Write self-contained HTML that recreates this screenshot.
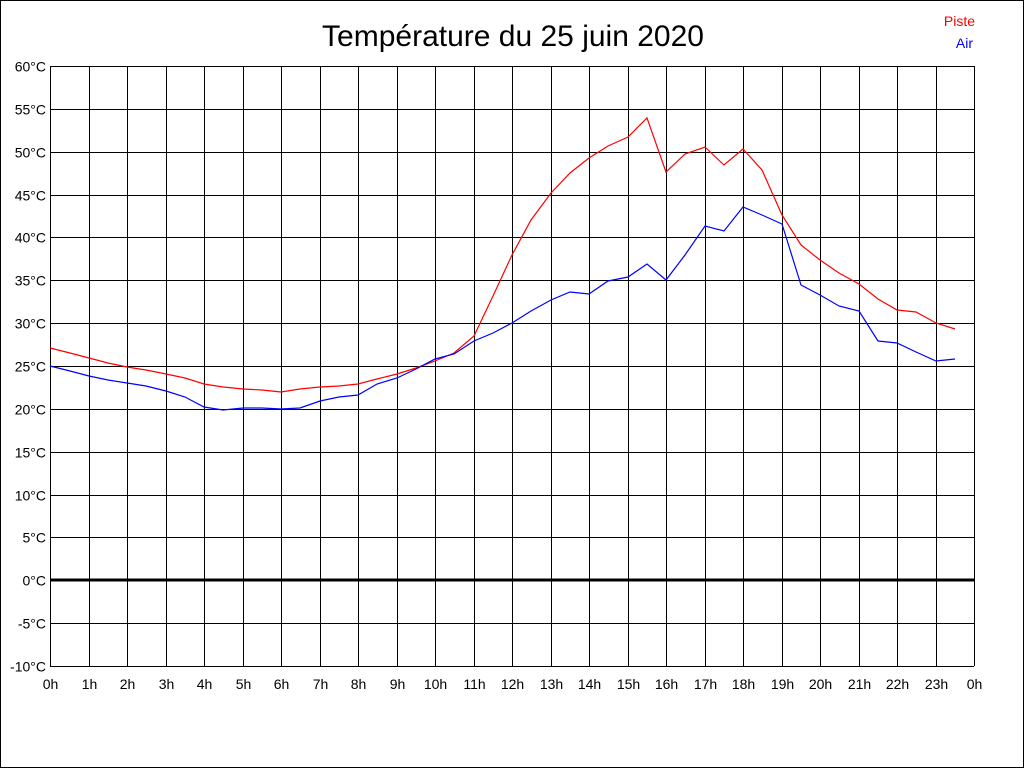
<!DOCTYPE html>
<html><head><meta charset="utf-8"><style>
html,body{margin:0;padding:0;background:#fff}
svg{display:block}
text{font-family:"Liberation Sans",Arial,sans-serif}
</style></head><body>
<svg width="1024" height="768" viewBox="0 0 1024 768" xmlns="http://www.w3.org/2000/svg">
<rect x="0.5" y="0.5" width="1023" height="767" fill="#fff" stroke="#000"/>
<text x="513" y="46" font-size="30" text-anchor="middle">Température du 25 juin 2020</text>
<text x="975" y="26" font-size="14" fill="#f00" text-anchor="end">Piste</text>
<text x="973" y="48" font-size="14" fill="#00f" text-anchor="end">Air</text>
<g id="grid" stroke="#000" stroke-width="1" shape-rendering="crispEdges"></g>
<g id="lbl" font-size="14"></g>
<line x1="50" y1="580" x2="974" y2="580" stroke="#000" stroke-width="3"/>
<polyline fill="none" stroke="#f00" stroke-width="1.2" points="50,348 70,353 89,358 108,363 127,367 146,370 166,374 185,378 204,384 223,387 243,389 262,390 281,392 300,389 320,387 339,386 358,384 377,379 397,374 416,368 435,361 454,353 474,336 493,296 512,255 531,220 551,193 570,173 589,158 608,146 628,137 647,118 666,172 685,154 705,147 724,165 743,149 762,170 782,215 801,245 820,260 839,273 859,284 878,299 897,310 916,312 936,323 955,329"/>
<polyline fill="none" stroke="#00f" stroke-width="1.2" points="50,366 70,371 89,376 108,380 127,383 146,386 166,391 185,397 204,407 223,410 243,408 262,408 281,409 300,408 320,401 339,397 358,395 377,384 397,378 416,369 435,359 454,354 474,341 493,333 512,323 531,311 551,300 570,292 589,294 608,281 628,277 647,264 666,280 685,255 705,226 724,231 743,207 762,215 782,224 801,285 820,295 839,306 859,311 878,341 897,343 916,352 936,361 955,359"/>
</svg>
<script>
var g=document.getElementById('grid'),l=document.getElementById('lbl'),ns="http://www.w3.org/2000/svg";
function ln(a,b,c,d){var e=document.createElementNS(ns,'line');e.setAttribute('x1',a);e.setAttribute('y1',b);e.setAttribute('x2',c);e.setAttribute('y2',d);g.appendChild(e);}
function tx(x,y,s,a){var e=document.createElementNS(ns,'text');e.setAttribute('x',x);e.setAttribute('y',y);e.setAttribute('text-anchor',a);e.textContent=s;l.appendChild(e);}
for(var i=0;i<=14;i++){var y=Math.round(66+i*600/14)+0.5;ln(50,y,974,y);tx(46,y+5,(60-5*i)+'°C','end');}
for(var h=0;h<=24;h++){var x=Math.round(50+h*924/24)+0.5;ln(x,66,x,666);tx(x,689,(h%24)+'h','middle');}
</script>
</body></html>
